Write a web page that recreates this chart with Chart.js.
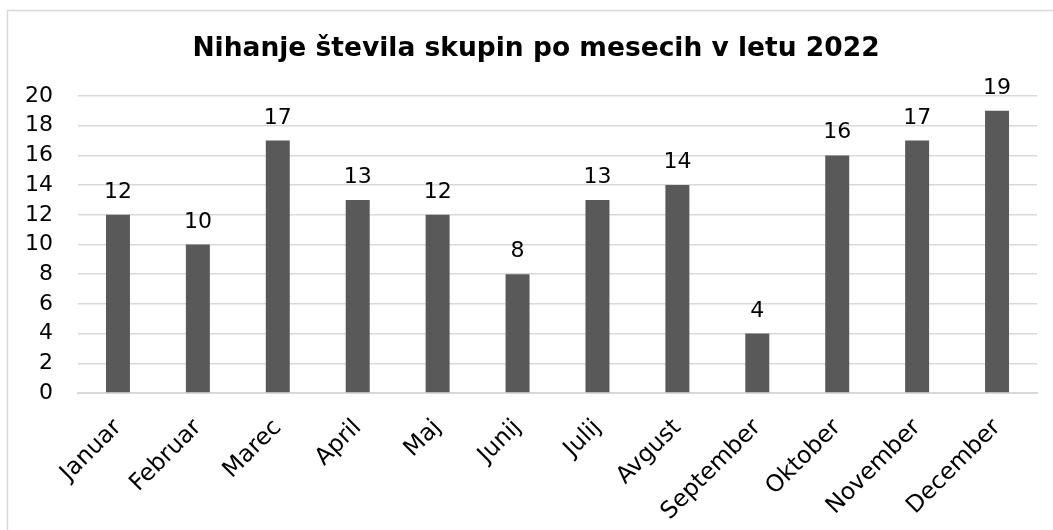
<!DOCTYPE html>
<html>
<head>
<meta charset="utf-8">
<script src="https://cdn.jsdelivr.net/npm/chart.js@4/dist/chart.umd.min.js"></script>
<style>
  html, body { margin: 0; padding: 0; background: #fff; overflow: hidden; }
  #wrap { position: absolute; left: 0; top: 0; width: 1053px; height: 530px; }
</style>
</head>
<body>
<div id="wrap"><canvas id="c" width="1053" height="530"></canvas></div>
<script>
const titleText = 'Nihanje števila skupin po mesecih v letu 2022';
const categories = ['Januar', 'Februar', 'Marec', 'April', 'Maj', 'Junij', 'Julij', 'Avgust', 'September', 'Oktober', 'November', 'December'];
const values = [12, 10, 17, 13, 12, 8, 13, 14, 4, 16, 17, 19];
const yTicks = [0, 2, 4, 6, 8, 10, 12, 14, 16, 18, 20];

const FONT = "'DejaVu Sans', Verdana, sans-serif";

const frame = {
  id: 'frame',
  beforeDraw(chart) {
    const ctx = chart.ctx;
    ctx.save();
    ctx.fillStyle = '#ffffff';
    ctx.fillRect(0, 0, chart.width, chart.height);
    ctx.strokeStyle = '#d9d9d9';
    ctx.lineWidth = 1.5;
    ctx.strokeRect(7.5, 10.5, 1200, 700);
    ctx.restore();
  }
};

const titleDraw = {
  id: 'titleDraw',
  afterDraw(chart) {
    const ctx = chart.ctx;
    ctx.save();
    ctx.font = 'bold 26.5px ' + FONT;
    ctx.fillStyle = '#000000';
    ctx.textAlign = 'center';
    ctx.textBaseline = 'alphabetic';
    ctx.fillText(titleText, 536, 56);
    ctx.restore();
  }
};

const barLabels = {
  id: 'barLabels',
  afterDatasetsDraw(chart) {
    const ctx = chart.ctx;
    const meta = chart.getDatasetMeta(0);
    ctx.save();
    ctx.font = '22px ' + FONT;
    ctx.fillStyle = '#000000';
    ctx.textAlign = 'center';
    ctx.textBaseline = 'alphabetic';
    meta.data.forEach((el, i) => {
      ctx.fillText(String(values[i]), el.x, el.y - 17);
    });
    ctx.restore();
  }
};

new Chart(document.getElementById('c'), {
  type: 'bar',
  data: {
    labels: categories,
    datasets: [{
      data: values,
      backgroundColor: '#595959',
      borderWidth: 0,
      categoryPercentage: 1,
      barPercentage: 0.3
    }]
  },
  options: {
    responsive: false,
    animation: false,
    devicePixelRatio: 1,
    layout: { padding: { top: 96, left: 8, right: 16, bottom: 0 } },
    plugins: {
      legend: { display: false },
      tooltip: { enabled: false },
      title: { display: false }
    },
    scales: {
      x: {
        grid: { display: false, drawTicks: false },
        border: { display: true, color: '#d9d9d9', width: 2 },
        ticks: {
          color: '#000000',
          font: { family: FONT, size: 23.5 },
          maxRotation: 45,
          minRotation: 45,
          autoSkip: false,
          padding: 21
        },
        afterFit(scale) { scale.height = 137; }
      },
      y: {
        min: 0,
        max: 20,
        afterBuildTicks(scale) { scale.ticks = yTicks.map(v => ({ value: v })); },
        grid: { color: '#d9d9d9', lineWidth: 1.5, drawTicks: false },
        border: { display: false },
        ticks: {
          color: '#000000',
          font: { family: FONT, size: 22 },
          padding: 25
        },
        afterFit(scale) { scale.width = 70; }
      }
    }
  },
  plugins: [frame, titleDraw, barLabels]
});
</script>
</body>
</html>
